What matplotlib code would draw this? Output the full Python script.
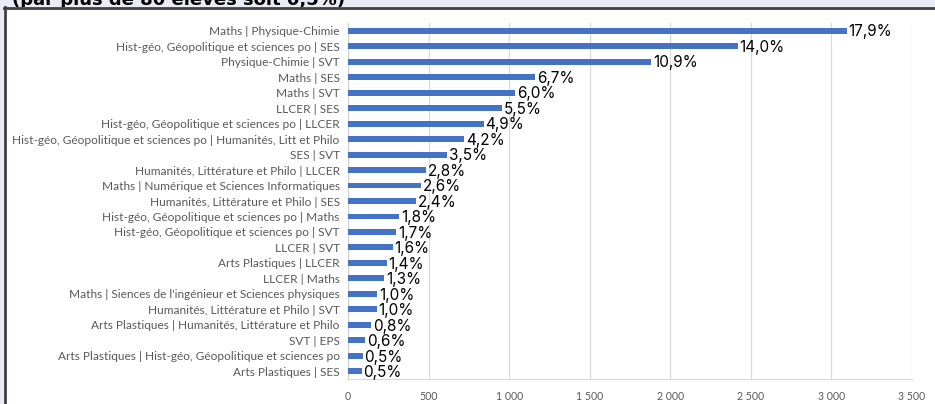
import matplotlib.pyplot as plt
from matplotlib.patches import Rectangle
from matplotlib.lines import Line2D
from matplotlib.ticker import FuncFormatter

# couples de spécialités (du plus grand au plus petit)
categories = [
    "Maths | Physique-Chimie",
    "Hist-géo, Géopolitique et sciences po | SES",
    "Physique-Chimie | SVT",
    "Maths | SES",
    "Maths | SVT",
    "LLCER | SES",
    "Hist-géo, Géopolitique et sciences po | LLCER",
    "Hist-géo, Géopolitique et sciences po | Humanités, Litt et Philo",
    "SES | SVT",
    "Humanités, Littérature et Philo | LLCER",
    "Maths | Numérique et Sciences Informatiques",
    "Humanités, Littérature et Philo | SES",
    "Hist-géo, Géopolitique et sciences po | Maths",
    "Hist-géo, Géopolitique et sciences po | SVT",
    "LLCER | SVT",
    "Arts Plastiques | LLCER",
    "LLCER | Maths",
    "Maths | Siences de l'ingénieur et Sciences physiques",
    "Humanités, Littérature et Philo | SVT",
    "Arts Plastiques | Humanités, Littérature et Philo",
    "SVT | EPS",
    "Arts Plastiques | Hist-géo, Géopolitique et sciences po",
    "Arts Plastiques | SES",
]
effectifs = [3095, 2418, 1883, 1161, 1035, 955, 842, 722, 612, 484, 455, 422,
             316, 297, 277, 240, 223, 180, 178, 143, 105, 90, 84]
pourcentages = ["17,9%", "14,0%", "10,9%", "6,7%", "6,0%", "5,5%", "4,9%", "4,2%",
                "3,5%", "2,8%", "2,6%", "2,4%", "1,8%", "1,7%", "1,6%", "1,4%",
                "1,3%", "1,0%", "1,0%", "0,8%", "0,6%", "0,5%", "0,5%"]
titre = "(par plus de 80 élèves soit 0,5%)"

W, H = 935, 404
fig = plt.figure(figsize=(W / 100, H / 100), dpi=100, facecolor="#e9ebf5")

# titre coupé en haut
fig.text(12 / W, 1 - 5 / H, titre, fontsize=13, fontweight="bold", color="black",
         ha="left", va="baseline", zorder=-3)
# zone blanche du graphique + bordure
fig.patches.append(Rectangle((4 / W, 0), 1, 1 - 7 / H, transform=fig.transFigure,
                             facecolor="white", edgecolor="none", zorder=-2))
fig.lines.append(Line2D([4.5 / W, 4.5 / W], [0, 1 - 7 / H], transform=fig.transFigure,
                        color="#404040", lw=2, zorder=-1))
fig.lines.append(Line2D([4 / W, 1], [1 - 7.5 / H, 1 - 7.5 / H], transform=fig.transFigure,
                        color="#404040", lw=2, zorder=-1))

ax = fig.add_axes([348 / W, 1 - 379 / H, (912 - 348) / W, (379 - 23) / H])
ax.set_facecolor("none")

y = list(range(len(categories)))
ax.barh(y, effectifs, height=0.38, color="#4472c4", zorder=3)
for yi, v, p in zip(y, effectifs, pourcentages):
    ax.text(v + 12, yi + 0.08, p, fontsize=11, family="Inter", color="black",
            va="center", ha="left", zorder=4)

ax.set_ylim(len(categories) - 0.5, -0.5)
ax.set_xlim(0, 3500)
ax.set_xticks(range(0, 3501, 500))
ax.xaxis.set_major_formatter(FuncFormatter(lambda v, _: f"{int(v):,}".replace(",", " ")))
ax.set_yticks(y)
ax.set_yticklabels(categories)
ax.tick_params(axis="y", length=0, pad=6, labelsize=8.55, labelcolor="#595959")
ax.tick_params(axis="x", length=0, pad=9, labelsize=7.6, labelcolor="#595959")
for lab in ax.get_yticklabels() + ax.get_xticklabels():
    lab.set_family("Lato")

ax.grid(axis="x", color="#d9d9d9", lw=0.9, zorder=0)
for s in ["top", "right"]:
    ax.spines[s].set_visible(False)
ax.spines["left"].set_color("#d0d0d0")
ax.spines["bottom"].set_color("#d9d9d9")

fig.savefig("out.png", dpi=100, facecolor=fig.get_facecolor())
